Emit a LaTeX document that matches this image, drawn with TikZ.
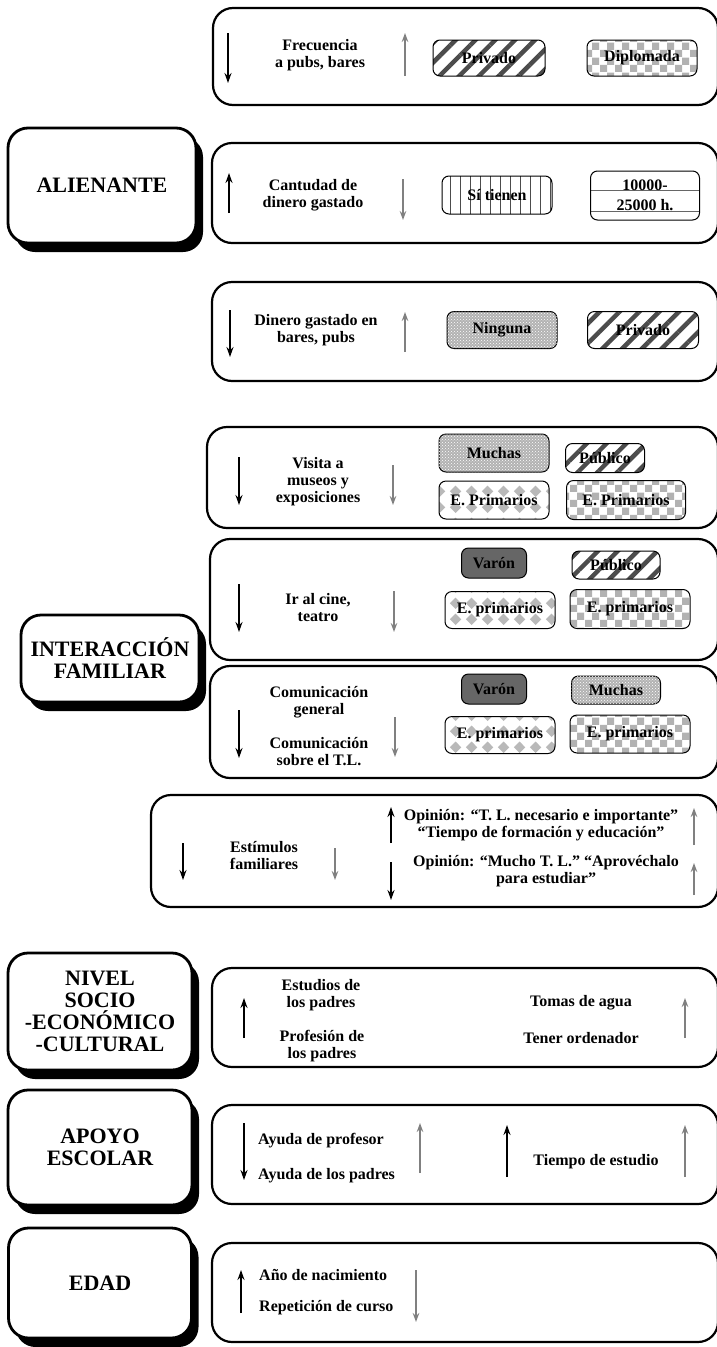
\documentclass[tikz,border=0pt]{standalone}
\usepackage{fontspec}
\setmainfont{Liberation Serif}
\usepackage{tikz}
\usetikzlibrary{arrows.meta,shadows,patterns,patterns.meta}

\definecolor{arrowgray}{gray}{0.5}
\newcommand{\boxfont}{\fontsize{16}{17}\selectfont\bfseries}
\newcommand{\catfont}{\fontsize{22}{22}\selectfont\bfseries}

\pgfdeclarepatternformonly{checks}{\pgfqpoint{0pt}{0pt}}{\pgfqpoint{15pt}{15pt}}{\pgfqpoint{15pt}{15pt}}%
{\pgfpathrectangle{\pgfqpoint{0pt}{0pt}}{\pgfqpoint{7.5pt}{7.5pt}}\pgfpathrectangle{\pgfqpoint{7.5pt}{7.5pt}}{\pgfqpoint{7.5pt}{7.5pt}}\pgfusepath{fill}}
\pgfdeclarepatternformonly{diamonds}{\pgfqpoint{0pt}{0pt}}{\pgfqpoint{16pt}{16pt}}{\pgfqpoint{16pt}{16pt}}%
{\pgfpathmoveto{\pgfqpoint{8pt}{2pt}}\pgfpathlineto{\pgfqpoint{14pt}{8pt}}\pgfpathlineto{\pgfqpoint{8pt}{14pt}}\pgfpathlineto{\pgfqpoint{2pt}{8pt}}\pgfpathclose\pgfusepath{fill}}

\tikzset{
	cat/.style={draw, line width=2.8pt, rounded corners=20pt, fill=white, font=\catfont, align=center,
		drop shadow={shadow xshift=7pt, shadow yshift=-9pt, fill=black, opacity=1}},
	grp/.style={line width=2.2pt, rounded corners=20pt},
	lbl/.style={font=\boxfont, align=center, inner sep=0pt},
	tag/.style={draw, line width=1pt, rounded corners=7pt, inner sep=0pt, font=\boxfont, align=center},
	stripes/.style={pattern={Lines[angle=45,distance=14pt,line width=4.5pt]}, pattern color=black!70},
	vlines/.style={pattern={Lines[angle=90,distance=10pt,line width=0.8pt]}, pattern color=black!70},
	hlines/.style={path picture={\draw[line width=0.8pt, black!60]
		([yshift=5.5pt]path picture bounding box.west) -- ([yshift=5.5pt]path picture bounding box.east)
		([yshift=-15.5pt]path picture bounding box.west) -- ([yshift=-15.5pt]path picture bounding box.east);}},
	checks/.style={pattern=checks, pattern color=gray!60},
	dots/.style={fill=gray!60, postaction={pattern=crosshatch dots, pattern color=white}},
	diam/.style={pattern=diamonds, pattern color=gray!55},
	dark/.style={fill=black!60},
	blk/.style={line width=2pt},
	gry/.style={line width=1.6pt, arrowgray, >={Stealth[length=9pt,width=6.5pt]}}
}

\begin{document}
\begin{tikzpicture}[x=1pt, y=-1pt, >={Stealth[length=10pt,width=7pt]}]
	\useasboundingbox (0,0) rectangle (716,1347);
	
	\draw[grp] (213,8) rectangle (718,105);
	\draw[blk,->] (228,33) -- (228,83);
	\node[lbl] (frec) at (320,55) {Frecuencia\\a pubs, bares};
	\draw[gry,->] (405,76) -- (405,33);
	\node[tag, stripes, minimum width=112pt, minimum height=36pt] (priv1) at (489,58) {Privado};
	\node[tag, checks, minimum width=110pt, minimum height=36pt] (dipl) at (642,58) {Diplomada};
	
	\node[cat, minimum width=188pt, minimum height=115pt] (alien) at (102,185.5) {ALIENANTE};
	
	\draw[grp] (212,143) rectangle (718,243);
	\draw[blk,->] (229,213) -- (229,173);
	\node[lbl] (cant) at (313,195) {Cantudad de\\dinero gastado};
	\draw[gry,->] (403,179) -- (403,220);
	\node[tag, vlines, minimum width=110pt, minimum height=38pt] (tien) at (497,195) {Sí tienen};
	\node[tag, hlines, minimum width=109pt, minimum height=49pt] (mil) at (645,195.5) {10000-\\[3pt]25000 h.};
	
	\draw[grp] (212,282) rectangle (718,381);
	\draw[blk,->] (230,310) -- (230,357);
	\node[lbl] (dine) at (316,330) {Dinero gastado en\\bares, pubs};
	\draw[gry,->] (405,352) -- (405,312);
	\node[tag, dots, minimum width=110pt, minimum height=37pt] (ning) at (502,330) {Ninguna};
	\node[tag, stripes, minimum width=111pt, minimum height=37pt] (priv2) at (643,330) {Privado};
	
	\draw[grp] (207,427) rectangle (718,528);
	\draw[blk,->] (239,457) -- (239,505);
	\node[lbl] (visi) at (318,482) {Visita a\\museos y\\exposiciones};
	\draw[gry,->] (393,465) -- (393,505);
	\node[tag, dots, minimum width=110pt, minimum height=38pt] (much1) at (494,453) {Muchas};
	\node[tag, stripes, minimum width=79pt, minimum height=29pt] (publ1) at (605,458) {Público};
	\node[tag, diam, minimum width=110pt, minimum height=38pt] (prim1) at (494,500) {E. Primarios};
	\node[tag, checks, minimum width=119pt, minimum height=39pt] (prim2) at (626,500) {E. Primarios};
	
	\node[cat, minimum width=178pt, minimum height=87pt] (inter) at (110,658.5) {INTERACCIÓN\\FAMILIAR};
	
	\draw[grp] (210,539) rectangle (718,660);
	\draw[blk,->] (239,584) -- (239,632);
	\node[lbl] (cine) at (318,608) {Ir al cine,\\teatro};
	\draw[gry,->] (394,591) -- (394,632);
	\node[tag, dark, minimum width=65pt, minimum height=30pt] (varo1) at (494,563) {Varón};
	\node[tag, stripes, minimum width=88pt, minimum height=28pt] (publ2) at (616,565) {Público};
	\node[tag, diam, minimum width=110pt, minimum height=37pt] (prim3) at (500,610) {E. primarios};
	\node[tag, checks, minimum width=120pt, minimum height=39pt] (prim4) at (630,609) {E. primarios};
	
	\draw[grp] (210,666) rectangle (718,778);
	\draw[blk,->] (239,710) -- (239,758);
	\node[lbl] (comg) at (319,702) {Comunicación\\general};
	\node[lbl] (comt) at (319,752) {Comunicación\\sobre el T.L.};
	\draw[gry,->] (395,717) -- (395,757);
	\node[tag, dark, minimum width=65pt, minimum height=30pt] (varo2) at (494,689) {Varón};
	\node[tag, dots, minimum width=89pt, minimum height=28pt] (much2) at (616,690) {Muchas};
	\node[tag, diam, minimum width=110pt, minimum height=37pt] (prim5) at (500,735) {E. primarios};
	\node[tag, checks, minimum width=120pt, minimum height=38pt] (prim6) at (630,734) {E. primarios};
	
	\draw[grp] (151,795) rectangle (718,907);
	\draw[blk,->] (183,843) -- (183,880);
	\node[lbl] (esti) at (264,856) {Estímulos\\familiares};
	\draw[gry,->] (335,848) -- (335,880);
	\draw[blk,->] (391,843) -- (391,807);
	\draw[blk,->] (391,862) -- (391,900);
	\node[lbl] (opi1) at (541,825) {Opinión: “T. L. necesario e importante”\\“Tiempo de formación y educación”};
	\node[lbl] (opi2) at (546,871) {Opinión: “Mucho T. L.” “Aprovéchalo\\para estudiar”};
	\draw[gry,->] (694,845) -- (694,808);
	\draw[gry,->] (694,895) -- (694,863);
	
	\node[cat, minimum width=184pt, minimum height=117pt] (nivel) at (100,1011.5) {NIVEL\\SOCIO\\-ECONÓMICO\\-CULTURAL};
	
	\draw[grp] (212,968) rectangle (718,1067);
	\draw[blk,->] (244,1038) -- (244,998);
	\node[lbl] (estu) at (321,995) {Estudios de\\los padres};
	\node[lbl] (prof) at (322,1046) {Profesión de\\los padres};
	\node[lbl] (tomas) at (581,1003) {Tomas de agua};
	\node[lbl] (orde) at (581,1038) {Tener ordenador};
	\draw[gry,->] (685,1038) -- (685,998);
	
	\node[cat, minimum width=184pt, minimum height=115pt] (apoyo) at (100,1147.5) {APOYO\\ESCOLAR};
	
	\draw[grp] (212,1105) rectangle (718,1204);
	\draw[blk,->] (244,1123) -- (244,1180);
	\node[lbl, anchor=west] (ayp) at (258,1141) {Ayuda de profesor};
	\node[lbl, anchor=west] (ayd) at (258,1176) {Ayuda de los padres};
	\draw[gry,->] (420,1173) -- (420,1123);
	\draw[blk,->] (507,1177) -- (507,1125);
	\node[lbl] (tiem) at (596,1162) {Tiempo de estudio};
	\draw[gry,->] (685,1177) -- (685,1125);
	
	\node[cat, minimum width=183pt, minimum height=110pt] (edad) at (100,1283) {EDAD};
	
	\draw[grp] (212,1243) rectangle (718,1342);
	\draw[blk,->] (241,1313) -- (241,1270);
	\node[lbl, anchor=west] (anyo) at (259,1275) {Año de nacimiento};
	\node[lbl, anchor=west] (repe) at (259,1308) {Repetición de curso};
	\draw[gry,->] (416,1270) -- (416,1322);
\end{tikzpicture}
\end{document}
